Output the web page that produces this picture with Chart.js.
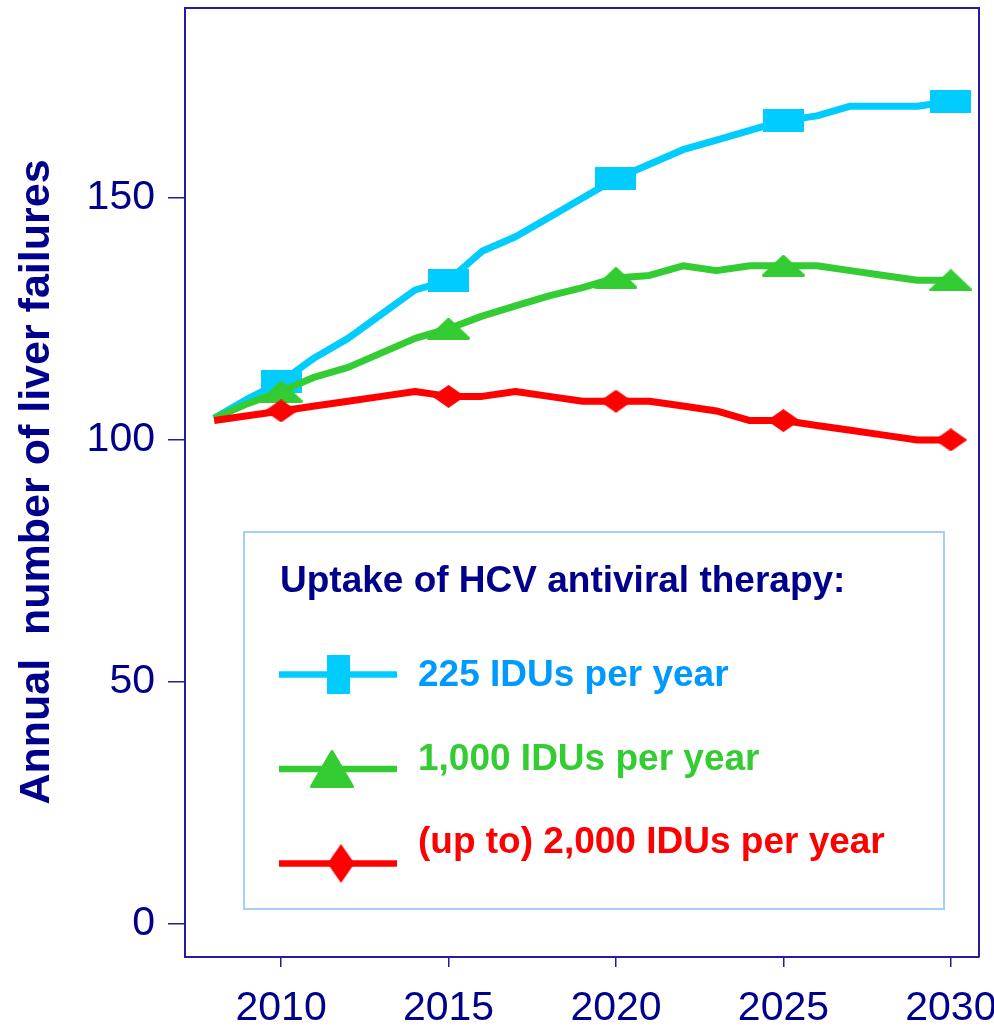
<!DOCTYPE html>
<html>
<head>
<meta charset="utf-8">
<script src="https://cdn.jsdelivr.net/npm/chart.js@4/dist/chart.umd.min.js"></script>
<style>
  html, body { margin: 0; padding: 0; background: #fff; }
  #wrap { width: 994px; height: 1028px; }
</style>
</head>
<body>
<div id="wrap"><canvas id="liver" width="994" height="1028"></canvas></div>
<script>
// values, one per year
const years = [2008, 2009, 2010, 2011, 2012, 2013, 2014, 2015, 2016, 2017, 2018, 2019,
               2020, 2021, 2022, 2023, 2024, 2025, 2026, 2027, 2028, 2029, 2030];
const uptake225  = [104.5, 108.5, 112, 117, 121, 126, 131, 133, 139, 142, 146, 150,
                    154, 157, 160, 162, 164, 166, 167, 169, 169, 169, 170];
const uptake1000 = [104.5, 107.5, 110, 113, 115, 118, 121, 123, 125.6, 127.7, 129.8, 131.5,
                    133.5, 134, 136, 135, 136, 136, 136, 135, 134, 133, 133];
const uptake2000 = [104, 105, 106, 107, 108, 109, 110, 109, 109, 110, 109, 108,
                    108, 108, 107, 106, 104, 104, 103, 102, 101, 100, 100];
const markerYears = [2010, 2015, 2020, 2025, 2030];
const xTicks = [2010, 2015, 2020, 2025, 2030];
const yTicks = [0, 50, 100, 150];
const seriesNames = ['225 IDUs per year', '1,000 IDUs per year', '(up to) 2,000 IDUs per year'];
const legendTitle = 'Uptake of HCV antiviral therapy:';
const yTitle = 'Annual  number of liver failures';

const navy = '#00008c';
const axisCol = '#1e1e9e';
const font = '"Liberation Sans", Arial, sans-serif';
const lineCols = ['#00ccff', '#33cc33', '#ff0000'];
const textCols = ['#0099ff', '#33cc33', '#ff0000'];

// marker pictures (the originals are stretched, so plain pointStyles won't do)
function marker(w, h, col, draw) {
  const c = document.createElement('canvas');
  c.width = w; c.height = h;
  const g = c.getContext('2d');
  g.fillStyle = col; g.strokeStyle = col;
  draw(g, w, h);
  return c;
}
const square = (w, h, col) => marker(w, h, col, g => g.fillRect(0, 0, w, h));
const triangle = (w, h, col) => marker(w, h, col, (g, w, h) => {
  g.lineJoin = 'round'; g.lineWidth = 3;
  g.beginPath();
  g.moveTo(w / 2, 1.5); g.lineTo(w - 1.5, h - 1.5); g.lineTo(1.5, h - 1.5);
  g.closePath(); g.fill(); g.stroke();
});
const diamond = (w, h, col) => marker(w, h, col, (g, w, h) => {
  g.beginPath();
  g.moveTo(w / 2, 0); g.lineTo(w, h / 2); g.lineTo(w / 2, h); g.lineTo(0, h / 2);
  g.closePath(); g.fill();
});

const plotMarks = [square(41, 23, lineCols[0]), triangle(43, 22, lineCols[1]), diamond(33, 23, lineCols[2])];
const legendMarks = [square(23, 39, lineCols[0]), triangle(44, 38, lineCols[1]), diamond(27, 39, lineCols[2])];

const pts = vals => years.map((y, i) => ({ x: y, y: vals[i] }));
const markRadius = ctx => markerYears.includes(years[ctx.dataIndex]) ? 10 : 0;

const frame = {
  id: 'frame',
  afterDraw(chart) {
    const { ctx, chartArea: a } = chart;
    ctx.save();
    // top and right edges of the box
    ctx.strokeStyle = axisCol;
    ctx.lineWidth = 2;
    ctx.beginPath();
    ctx.moveTo(a.left, a.top);
    ctx.lineTo(a.right, a.top);
    ctx.lineTo(a.right, a.bottom);
    ctx.stroke();

    // y title
    ctx.fillStyle = navy;
    ctx.font = 'bold 43px ' + font;
    ctx.textAlign = 'center';
    ctx.textBaseline = 'alphabetic';
    ctx.translate(48.5, 482);
    ctx.rotate(-Math.PI / 2);
    ctx.fillText(yTitle, 0, 0);
    ctx.restore();

    // legend box
    ctx.save();
    ctx.fillStyle = '#fff';
    ctx.fillRect(244, 532, 700, 377);
    ctx.strokeStyle = '#a6cff7';
    ctx.lineWidth = 2;
    ctx.strokeRect(244, 532, 700, 377);
    ctx.fillStyle = navy;
    ctx.font = 'bold 37px ' + font;
    ctx.textAlign = 'left';
    ctx.textBaseline = 'alphabetic';
    ctx.fillText(legendTitle, 280, 592);

    const lineY = [674.5, 769, 863.5];
    const textY = [686, 770, 853];
    const markX = [338.5, 332, 341];
    seriesNames.forEach((name, i) => {
      ctx.strokeStyle = lineCols[i];
      ctx.lineWidth = 6.5;
      ctx.beginPath();
      ctx.moveTo(279, lineY[i]);
      ctx.lineTo(397, lineY[i]);
      ctx.stroke();
      const m = legendMarks[i];
      ctx.drawImage(m, markX[i] - m.width / 2, lineY[i] - m.height / 2);
      ctx.fillStyle = textCols[i];
      ctx.fillText(name, 418, textY[i]);
    });
    ctx.restore();
  }
};

new Chart(document.getElementById('liver'), {
  type: 'line',
  data: {
    datasets: [
      { label: seriesNames[0], data: pts(uptake225), borderColor: lineCols[0], pointStyle: plotMarks[0], order: 2 },
      { label: seriesNames[1], data: pts(uptake1000), borderColor: lineCols[1], pointStyle: plotMarks[1], order: 1 },
      { label: seriesNames[2], data: pts(uptake2000), borderColor: lineCols[2], pointStyle: plotMarks[2], order: 0 }
    ]
  },
  options: {
    responsive: false,
    animation: false,
    events: [],
    layout: { autoPadding: false, padding: { top: 8, right: 15, left: 0, bottom: 0 } },
    datasets: {
      line: { borderWidth: 7, tension: 0, fill: false, pointRadius: markRadius, borderJoinStyle: 'round' }
    },
    plugins: { legend: { display: false }, tooltip: { enabled: false } },
    scales: {
      x: {
        type: 'linear',
        min: 2007.13,
        max: 2030.84,
        afterBuildTicks: s => { s.ticks = xTicks.map(v => ({ value: v })); },
        afterFit: s => { s.height = 71; s.paddingLeft = 0; s.paddingRight = 0; },
        grid: { drawOnChartArea: false, drawTicks: true, tickLength: 10, color: axisCol, lineWidth: 1.5 },
        border: { display: true, color: axisCol, width: 2 },
        ticks: { color: navy, font: { family: font, size: 41 }, padding: 17, maxRotation: 0, autoSkip: false,
                 callback: v => String(v) }
      },
      y: {
        min: -6.9,
        max: 189.3,
        afterBuildTicks: s => { s.ticks = yTicks.map(v => ({ value: v })); },
        afterFit: s => { s.width = 185; s.paddingTop = 0; s.paddingBottom = 0; },
        grid: { drawOnChartArea: false, drawTicks: true, tickLength: 17, color: axisCol, lineWidth: 1.5 },
        border: { display: true, color: axisCol, width: 2 },
        ticks: { color: navy, font: { family: font, size: 41 }, padding: 13, callback: v => String(v) }
      }
    }
  },
  plugins: [frame]
});
</script>
</body>
</html>
